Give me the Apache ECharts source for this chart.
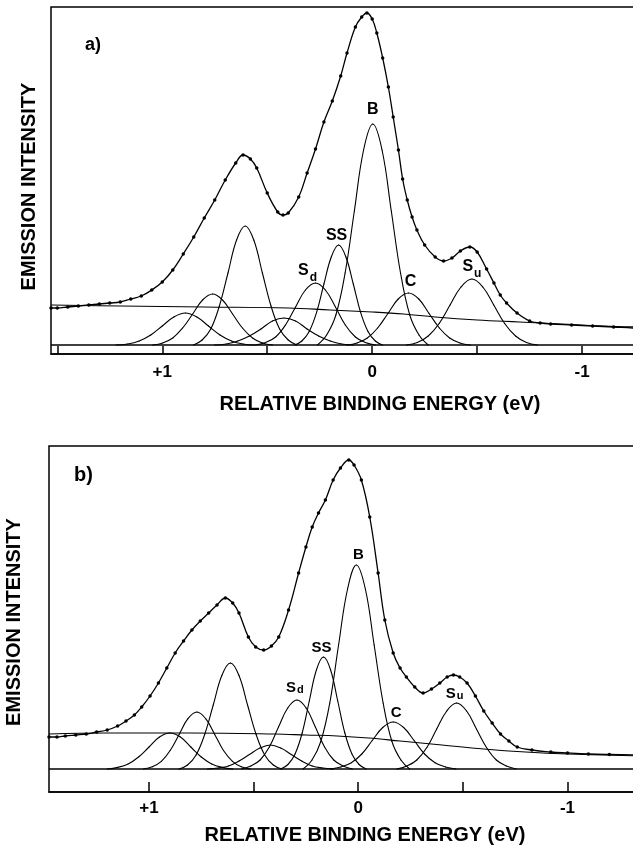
<!DOCTYPE html>
<html>
<head>
<meta charset="utf-8">
<script src="https://cdn.jsdelivr.net/npm/echarts@6/dist/echarts.min.js"></script>
<style>
  html, body { margin: 0; padding: 0; background: #fff; }
  #chart { width: 633px; height: 852px; }
</style>
</head>
<body>
<div id="chart"></div>
<script>
// x = relative binding energy (eV), y = emission intensity (arb. units, 0 = baseline)
const tickValues = [1.5, 1, 0.5, 0, -0.5, -1];
const labelValues = [1, 0, -1];

// ---- panel a ----
const fitA = [[1.53,37],[1.50,37],[1.45,38],[1.40,39],[1.35,40],[1.30,41],[1.25,42],[1.20,43],[1.15,46],[1.10,49],
  [1.05,55],[1.00,63],[0.95,75],[0.90,91],[0.85,108],[0.80,127],[0.75,145],[0.70,165],[0.65,182],[0.615,190],
  [0.58,186],[0.55,177],[0.50,152],[0.45,133],[0.425,130],[0.40,132],[0.35,148],[0.31,172],[0.27,196],[0.23,223],
  [0.19,244],[0.15,269],[0.12,292],[0.08,318],[0.05,328],[0.025,332],[0.0,326],[-0.022,312],[-0.05,287],[-0.077,258],
  [-0.10,228],[-0.125,195],[-0.145,166],[-0.167,145],[-0.19,128],[-0.213,115],[-0.25,100],[-0.30,88],[-0.34,84],[-0.38,87],
  [-0.42,94],[-0.465,98],[-0.50,93],[-0.545,76],[-0.58,62],[-0.61,50],[-0.64,42],[-0.69,32],[-0.75,24],[-0.80,22],
  [-0.85,21],[-0.95,20],[-1.05,19],[-1.15,18],[-1.25,17],[-1.29,17]];
const bgA = [[1.53,40],[1.2,39],[0.8,38],[0.4,37],[0.2,35],[0.0,33],[-0.15,31],[-0.3,28],[-0.5,25],[-0.7,23],[-0.9,21],[-1.1,19],[-1.29,18]];
const a_p1 = [[1.22,0],[1.165,1],[1.11,4],[1.055,10],[1.00,19],[0.945,28],[0.89,32],[0.835,28],[0.78,19],[0.725,10],[0.67,4],[0.615,1],[0.56,0]];
const a_p2 = [[1.045,0],[0.998,2],[0.95,7],[0.903,17],[0.855,31],[0.808,45],[0.76,51],[0.713,45],[0.665,31],[0.618,17],[0.57,7],[0.523,2],[0.475,0]];
const a_p3 = [[0.851,0],[0.81,5],[0.769,16],[0.728,39],[0.687,72],[0.646,105],[0.605,119],[0.564,105],[0.523,72],[0.482,39],[0.441,16],[0.4,5],[0.359,0]];
const a_p4 = [[0.75,0],[0.695,1],[0.64,4],[0.585,9],[0.53,16],[0.475,24],[0.42,27],[0.365,24],[0.31,16],[0.255,9],[0.2,4],[0.145,1],[0.09,0]];
const a_Sd = [[0.555,0],[0.508,2.5],[0.46,8],[0.413,20],[0.365,38],[0.318,55],[0.27,62],[0.223,55],[0.175,38],[0.128,20],[0.08,8],[0.033,2.5],[-0.015,0]];
const a_SS = [[0.37,0],[0.335,4],[0.3,13.5],[0.265,32.5],[0.23,61],[0.195,88],[0.16,100],[0.125,88],[0.09,61],[0.055,32.5],[0.02,13.5],[-0.015,4],[-0.05,0]];
const a_B = [[0.261,0],[0.217,10],[0.173,30],[0.129,72],[0.085,134],[0.041,195],[-0.003,221],[-0.047,195],[-0.091,134],[-0.135,72],[-0.179,30],[-0.223,10],[-0.267,0]];
const a_C = [[0.121,0],[0.072,2],[0.023,7],[-0.026,17],[-0.075,31.5],[-0.124,46],[-0.173,52],[-0.222,46],[-0.271,31.5],[-0.32,17],[-0.369,7],[-0.418,2],[-0.467,0]];
const a_Su = [[-0.163,0],[-0.215,2.5],[-0.267,9],[-0.319,21.5],[-0.371,40],[-0.423,58],[-0.475,66],[-0.527,58],[-0.579,40],[-0.631,21.5],[-0.683,9],[-0.735,2.5],[-0.787,0]];

// ---- panel b ----
const fitB = [[1.478,32],[1.44,32],[1.40,33],[1.35,34],[1.30,35],[1.25,37],[1.20,39],[1.15,43],[1.11,48],[1.07,54],
  [1.035,62],[0.995,73],[0.955,86],[0.915,101],[0.875,116],[0.835,128],[0.795,139],[0.755,148],[0.715,156],[0.675,164],
  [0.635,171],[0.60,166],[0.57,156],[0.525,132],[0.49,122],[0.452,119],[0.415,123],[0.38,132],[0.333,159],[0.285,196],
  [0.25,222],[0.22,242],[0.19,256],[0.157,269],[0.12,289],[0.085,301],[0.045,309],[0.02,304],[-0.015,289],[-0.055,252],
  [-0.095,196],[-0.127,149],[-0.167,116],[-0.20,101],[-0.23,92],[-0.27,82],[-0.31,76],[-0.35,80],[-0.39,86],[-0.425,92],
  [-0.455,94],[-0.485,92],[-0.52,86],[-0.56,73],[-0.60,58],[-0.64,46],[-0.68,35],[-0.72,28],[-0.76,22],[-0.83,19],
  [-0.92,17],[-1.0,16],[-1.1,15],[-1.2,14.5],[-1.361,14]];
const bgB = [[1.478,35],[1.2,36],[0.8,36],[0.4,35],[0.25,34],[0.1,33],[-0.05,31],[-0.2,28],[-0.4,24],[-0.6,20],[-0.8,17],[-1.0,15],[-1.361,13]];
const b_p1 = [[1.2,0],[1.15,1.6],[1.1,5],[1.05,12],[1.0,22],[0.95,32],[0.9,36],[0.85,32],[0.8,22],[0.75,12],[0.7,5],[0.65,1.6],[0.6,0]];
const b_p2 = [[1.026,0],[0.984,2.3],[0.941,7.7],[0.899,18.5],[0.856,34.6],[0.814,50.3],[0.771,57],[0.729,50.3],[0.686,34.6],[0.644,18.5],[0.601,7.7],[0.559,2.3],[0.516,0]];
const b_p3 = [[0.857,0],[0.816,4],[0.775,14],[0.734,34.5],[0.693,64],[0.652,93.5],[0.611,106],[0.57,93.5],[0.529,64],[0.488,34.5],[0.447,14],[0.406,4],[0.365,0]];
const b_p4 = [[0.72,0],[0.67,1],[0.62,3],[0.57,8],[0.52,14.5],[0.47,21],[0.42,24],[0.37,21],[0.32,14.5],[0.27,8],[0.22,3],[0.17,1],[0.12,0]];
const b_Sd = [[0.557,0],[0.513,3],[0.469,9],[0.425,22],[0.381,42],[0.337,61],[0.293,69],[0.249,61],[0.205,42],[0.161,22],[0.117,9],[0.073,3],[0.029,0]];
const b_SS = [[0.37,0],[0.336,4.5],[0.302,15],[0.268,36],[0.234,68],[0.2,99],[0.166,112],[0.132,99],[0.098,68],[0.064,36],[0.03,15],[-0.004,4.5],[-0.038,0]];
const b_B = [[0.264,0],[0.221,9],[0.179,27.5],[0.136,66],[0.094,124],[0.051,180],[0.009,204],[-0.034,180],[-0.076,124],[-0.119,66],[-0.161,27.5],[-0.204,9],[-0.246,0]];
const b_C = [[0.133,0],[0.083,2],[0.033,6.3],[-0.017,15],[-0.067,28.5],[-0.117,41.5],[-0.167,47],[-0.217,41.5],[-0.267,28.5],[-0.317,15],[-0.367,6.3],[-0.417,2],[-0.467,0]];
const b_Su = [[-0.185,0],[-0.233,3],[-0.28,9],[-0.328,21.5],[-0.375,40],[-0.423,58],[-0.47,66],[-0.518,58],[-0.565,40],[-0.613,21.5],[-0.66,9],[-0.708,3],[-0.755,0]];

const FONT = '"Liberation Sans", Arial, Helvetica, sans-serif';
const chart = echarts.init(document.getElementById('chart'));

function curve(data, gi, width, extra) {
  return Object.assign({
    type: 'line', xAxisIndex: gi, yAxisIndex: gi, data: data,
    showSymbol: false, smooth: 0.4, silent: true, animation: false,
    lineStyle: {color: '#000', width: width}
  }, extra || {});
}

// component peak, optionally labelled at its apex
function peak(data, gi, main, sub, dist, dx, size, subPad) {
  let top = 0;
  data.forEach((p, i) => { if (p[1] > data[top][1]) top = i; });
  const items = data.map((p, i) => {
    if (i !== top || !main) return p;
    return {
      value: p,
      label: {
        show: true, position: 'top', distance: dist, offset: [dx, 0],
        formatter: sub ? '{m|' + main + '}{s|' + sub + '}' : '{m|' + main + '}',
        rich: {
          m: {fontSize: size, lineHeight: size, fontWeight: 'bold', fontFamily: FONT, color: '#000', verticalAlign: 'top'},
          s: {fontSize: size - 4, lineHeight: size - 4, fontWeight: 'bold', fontFamily: FONT, color: '#000',
              verticalAlign: 'top', padding: [subPad, 0, 0, 1]}
        }
      }
    };
  });
  return curve(items, gi, 1.1, {showSymbol: true, symbol: 'circle', symbolSize: 1, itemStyle: {color: '#000'}});
}

function xAxisFor(gi, min, max, tickLen, margin, nameGap, shift) {
  return {
    type: 'value', gridIndex: gi, inverse: true, min: min, max: max,
    axisLine: {show: true, onZero: false, lineStyle: {color: '#000', width: 1.5}},
    axisTick: {show: true, inside: true, length: tickLen,
      customValues: tickValues.filter(v => v >= min && v <= max),
      lineStyle: {color: '#000', width: 1.5}},
    axisLabel: {customValues: labelValues, margin: margin, color: '#000',
      fontSize: 17, fontWeight: 'bold', fontFamily: FONT,
      formatter: v => (v > 0 ? '+' + v : String(v))},
    splitLine: {show: false},
    name: 'RELATIVE BINDING ENERGY (eV)', nameLocation: 'middle', nameGap: nameGap,
    nameTextStyle: {fontSize: 20, fontWeight: 'bold', fontFamily: FONT, color: '#000', padding: [0, 0, 0, shift]}
  };
}

function yAxisFor(gi, min, max, nameGap, shift) {
  return {
    type: 'value', gridIndex: gi, min: min, max: max,
    axisLine: {show: false}, axisTick: {show: false}, axisLabel: {show: false}, splitLine: {show: false},
    name: 'EMISSION INTENSITY', nameLocation: 'middle', nameGap: nameGap, nameRotate: 90,
    nameTextStyle: {fontSize: 20, fontWeight: 'bold', fontFamily: FONT, color: '#000', padding: [0, shift, 0, 0]}
  };
}

const zeroLine = {silent: true, symbol: 'none', label: {show: false},
  lineStyle: {color: '#000', width: 1.6, type: 'solid'}, data: [{yAxis: 0}]};

chart.setOption({
  backgroundColor: '#fff',
  animation: false,
  title: [
    {text: 'a)', left: 85, top: 36, padding: 0, textStyle: {fontSize: 18, fontWeight: 'bold', fontFamily: FONT, color: '#000'}},
    {text: 'b)', left: 74, top: 465, padding: 0, textStyle: {fontSize: 20, fontWeight: 'bold', fontFamily: FONT, color: '#000'}}
  ],
  grid: [
    {left: 51, top: 7, height: 347, width: 592, outerBoundsMode: 'none', containLabel: false,
      show: true, borderColor: '#000', borderWidth: 1.5, backgroundColor: 'transparent'},
    {left: 49, top: 446, height: 346, width: 594, outerBoundsMode: 'none', containLabel: false,
      show: true, borderColor: '#000', borderWidth: 1.5, backgroundColor: 'transparent'}
  ],
  xAxis: [
    xAxisFor(0, -1.29, 1.53, 8, 10, 40, 66),
    xAxisFor(1, -1.361, 1.478, 10, 8, 33, 38)
  ],
  yAxis: [
    yAxisFor(0, -9, 338, 12, 12),
    yAxisFor(1, -23, 323, 25, 6)
  ],
  series: [
    curve(bgA, 0, 1.1, {markLine: zeroLine}),
    peak(a_p1, 0), peak(a_p2, 0), peak(a_p3, 0), peak(a_p4, 0),
    peak(a_Sd, 0, 'S', 'd', 4, -8, 16, 9),
    peak(a_SS, 0, 'SS', null, 1, -2, 16),
    peak(a_B, 0, 'B', null, 6, 0, 16),
    peak(a_C, 0, 'C', null, 3, 2, 16),
    peak(a_Su, 0, 'S', 'u', 4, 0, 16, 9),
    curve(fitA, 0, 1.3, {showSymbol: true, symbol: 'circle', symbolSize: 3.5, itemStyle: {color: '#000'}}),

    curve(bgB, 1, 1.1, {markLine: zeroLine}),
    peak(b_p1, 1), peak(b_p2, 1), peak(b_p3, 1), peak(b_p4, 1),
    peak(b_Sd, 1, 'S', 'd', 4, -2, 15, 4),
    peak(b_SS, 1, 'SS', null, 1.5, -2, 15),
    peak(b_B, 1, 'B', null, 2.5, 2, 15),
    peak(b_C, 1, 'C', null, 1, 3, 15),
    peak(b_Su, 1, 'S', 'u', 1.5, -2, 15, 4),
    curve(fitB, 1, 1.3, {showSymbol: true, symbol: 'circle', symbolSize: 3.5, itemStyle: {color: '#000'}})
  ]
});
</script>
</body>
</html>
